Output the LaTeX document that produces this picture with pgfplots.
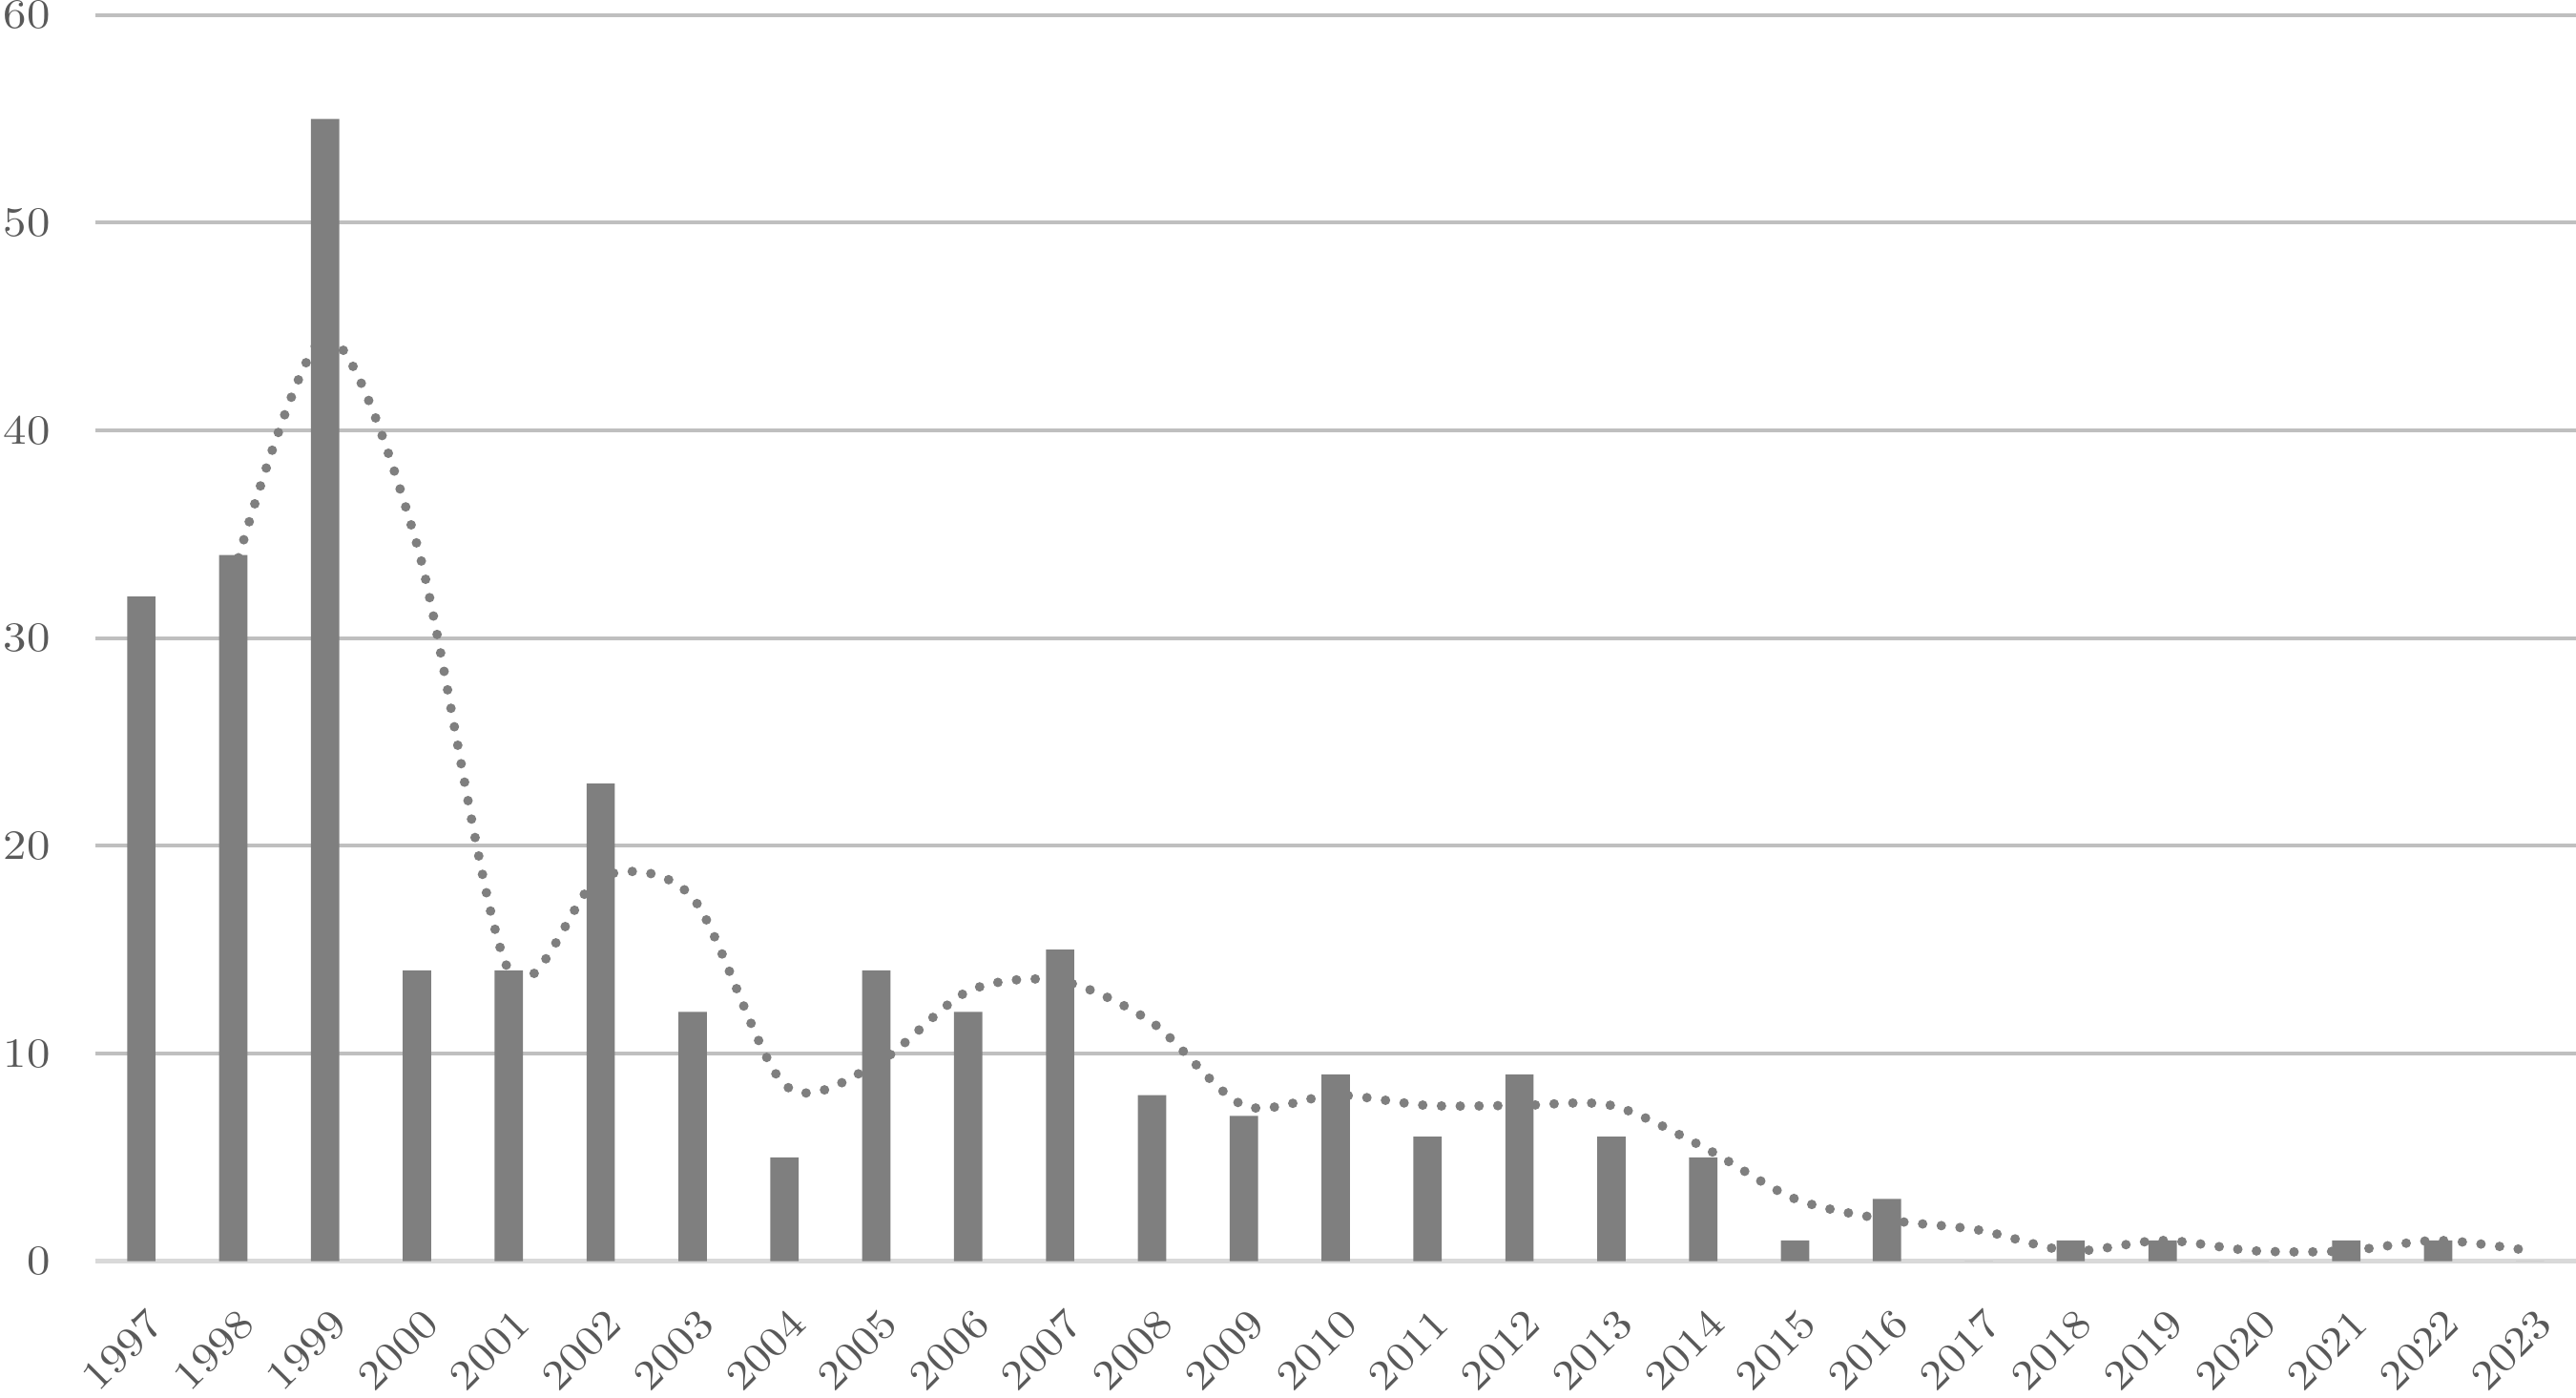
\documentclass[border=0pt]{standalone}
\usepackage{fontspec}
\setmainfont{lmroman10-regular.otf}[FakeStretch=1.12]
\usepackage{pgfplots}
\pgfplotsset{compat=1.18}
\definecolor{barc}{HTML}{7F7F7F}
\definecolor{gridc}{HTML}{BFBFBF}
\definecolor{basec}{HTML}{D9D9D9}
\definecolor{txtc}{HTML}{595959}
\begin{document}
\begin{tikzpicture}
\begin{axis}[
  width=26cm, height=13.06cm, scale only axis,
  xmin=-0.5, xmax=26.5, ymin=0, ymax=60,
  ytick={0,10,20,30,40,50,60},
  xtick={0,1,2,3,4,5,6,7,8,9,10,11,12,13,14,15,16,17,18,19,20,21,22,23,24,25,26},
  xticklabels={1997,1998,1999,2000,2001,2002,2003,2004,2005,2006,2007,2008,2009,2010,2011,2012,2013,2014,2015,2016,2017,2018,2019,2020,2021,2022,2023},
  ymajorgrids, grid style={gridc, line width=1.1pt},
  axis x line*=bottom, axis y line*=left,
  x axis line style={basec, line width=1.6pt, -},
  y axis line style={draw=none, -},
  major tick length=0pt,
  tick label style={font=\fontsize{12.4}{14}\selectfont, text=txtc},
  x tick label style={xshift=0.04cm, yshift=-0.47cm, rotate=45, anchor=north east, inner sep=0pt},
  y tick label style={xshift=-0.35cm},
  /pgf/number format/assume math mode=true,
  clip=false,
]
\addplot[smooth, tension=0.5, barc, line width=2.85pt, line cap=round, dash pattern=on 0pt off 5.6pt] coordinates {
(1,33) (2,44.5) (3,34.5) (4,14) (5,18.5) (6,17.5) (7,8.5) (8,9.5) (9,13)
(10,13.5) (11,11.5) (12,7.5) (13,8) (14,7.5) (15,7.5) (16,7.5) (17,5.5)
(18,3) (19,2) (20,1.5) (21,0.5) (22,1) (23,0.5) (24,0.5) (25,1) (26,0.5)};
\addplot[ybar, bar width=0.297cm, fill=barc, draw=none] coordinates {
(0,32) (1,34) (2,55) (3,14) (4,14) (5,23) (6,12) (7,5) (8,14) (9,12)
(10,15) (11,8) (12,7) (13,9) (14,6) (15,9) (16,6) (17,5) (18,1) (19,3)
(20,0) (21,1) (22,1) (23,0) (24,1) (25,1) (26,0)};
\end{axis}
\pgfresetboundingbox
\path ([xshift=-1cm,yshift=-1.43cm]current axis.south west) rectangle ([yshift=0.157cm]current axis.north east);
\end{tikzpicture}
\end{document}
